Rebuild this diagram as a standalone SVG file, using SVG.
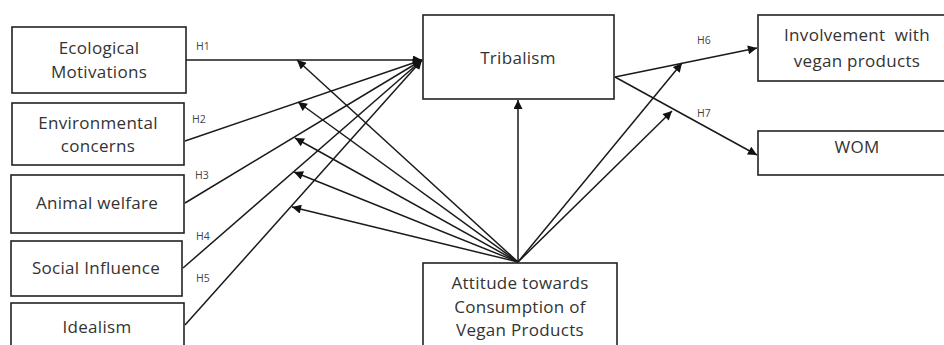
<svg xmlns="http://www.w3.org/2000/svg" width="944" height="345" viewBox="0 0 944 345">
<style>
.box{fill:#fff;stroke:#222;stroke-width:1.6}
.t{font-family:"Open Sans","Liberation Sans",sans-serif;font-size:17px;letter-spacing:0.3px;fill:#333;text-anchor:middle}
.h{font-family:"Open Sans","Liberation Sans",sans-serif;font-size:10.5px;fill:#444}
.c{stroke:#1a1a1a;stroke-width:1.5;fill:none;marker-end:url(#ah)}
</style>
<defs>
<marker id="ah" viewBox="0 0 10 10" refX="10" refY="5" markerWidth="10" markerHeight="9" markerUnits="userSpaceOnUse" orient="auto">
<path d="M0,0 L10,5 L0,10 z" fill="#111"/>
</marker>
</defs>
<rect width="944" height="345" fill="#fff"/>
<g id="connectors">
<line class="c" x1="186" y1="60" x2="422" y2="60"/>
<line class="c" x1="185" y1="141" x2="422" y2="60"/>
<line class="c" x1="185" y1="203" x2="422" y2="60"/>
<line class="c" x1="183" y1="268" x2="422" y2="60"/>
<line class="c" x1="185" y1="325" x2="422" y2="60"/>
<line class="c" x1="518" y1="262" x2="297" y2="60"/>
<line class="c" x1="518" y1="262" x2="298" y2="102"/>
<line class="c" x1="518" y1="262" x2="295" y2="138"/>
<line class="c" x1="518" y1="262" x2="294" y2="172"/>
<line class="c" x1="518" y1="262" x2="292" y2="207"/>
<line class="c" x1="518" y1="262" x2="518" y2="100"/>
<line class="c" x1="518" y1="262" x2="682" y2="63"/>
<line class="c" x1="518" y1="262" x2="672" y2="111"/>
<line class="c" x1="615" y1="77" x2="757" y2="48"/>
<line class="c" x1="615" y1="77" x2="757" y2="155"/>
<text class="h" x="196" y="50">H1</text>
<text class="h" x="192" y="123">H2</text>
<text class="h" x="195" y="179">H3</text>
<text class="h" x="196" y="240">H4</text>
<text class="h" x="196" y="282">H5</text>
<text class="h" x="697" y="44">H6</text>
<text class="h" x="697" y="117">H7</text>
</g>
<g id="ecological">
<rect class="box" x="12" y="27" width="174" height="66"/>
<text class="t" x="99" y="54">Ecological</text>
<text class="t" x="99" y="78">Motivations</text>
</g>
<g id="environmental">
<rect class="box" x="12" y="103" width="172" height="62"/>
<text class="t" x="98" y="129">Environmental</text>
<text class="t" x="98" y="152">concerns</text>
</g>
<g id="animal">
<rect class="box" x="11" y="175" width="173" height="58"/>
<text class="t" x="97" y="209">Animal welfare</text>
</g>
<g id="social">
<rect class="box" x="11" y="241" width="171" height="55"/>
<text class="t" x="96" y="274">Social Influence</text>
</g>
<g id="idealism">
<rect class="box" x="11" y="303" width="173" height="60"/>
<text class="t" x="97" y="333">Idealism</text>
</g>
<g id="tribalism">
<rect class="box" x="423" y="15" width="191" height="84"/>
<text class="t" x="518" y="64">Tribalism</text>
</g>
<g id="attitude">
<rect class="box" x="423" y="263" width="194" height="100"/>
<text class="t" x="520" y="289">Attitude towards</text>
<text class="t" x="520" y="313">Consumption of</text>
<text class="t" x="520" y="336">Vegan Products</text>
</g>
<g id="involvement">
<rect class="box" x="758" y="15" width="200" height="66"/>
<text class="t" x="857" y="41" xml:space="preserve">Involvement  with</text>
<text class="t" x="857" y="67">vegan products</text>
</g>
<g id="wom">
<rect class="box" x="758" y="131" width="200" height="44"/>
<text class="t" x="857" y="153">WOM</text>
</g>
</svg>
